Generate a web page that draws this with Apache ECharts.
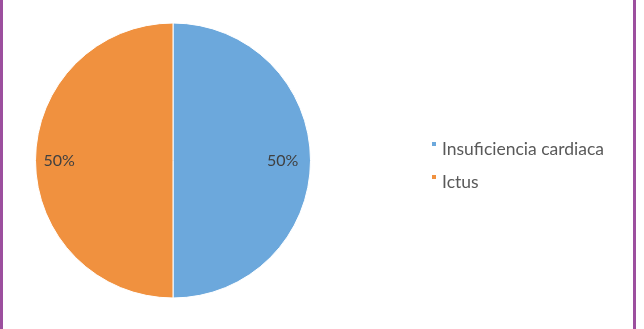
<!DOCTYPE html>
<html>
<head>
<meta charset="utf-8">
<script src="https://cdn.jsdelivr.net/npm/echarts@6/dist/echarts.min.js"></script>
<style>
html,body{margin:0;padding:0;background:#fff;}
#wrap{position:relative;width:644px;height:329px;overflow:hidden;}
#chart{position:absolute;left:0;top:0;width:644px;height:329px;}
.bl{position:absolute;top:0;width:3px;height:329px;background:#9c4f9e;}
</style>
</head>
<body>
<div id="wrap">
<div id="chart"></div>
<div class="bl" style="left:0"></div>
<div class="bl" style="left:633px"></div>
</div>
<script>
const categories = ["Insuficiencia cardiaca", "Ictus"];
const values = [50, 50];
const colors = ["#6CA8DC", "#F0913F"];

const data = categories.map((c, i) => ({ name: c, value: values[i] }));
const chart = echarts.init(document.getElementById('chart'), null, { renderer: 'canvas' });
chart.setOption({
  animation: false,
  color: colors,
  legend: {
    orient: 'vertical',
    left: 430,
    top: 130,
    padding: 0,
    itemWidth: 6,
    itemHeight: 6,
    itemGap: 5,
    icon: 'rect',
    data: categories,
    formatter: '{t|{name}}',
    textStyle: {
      fontFamily: 'Lato', fontSize: 17.5, color: '#595959',
      rich: { t: { fontFamily: 'Lato', fontSize: 17.5, lineHeight: 20, color: '#595959', padding: [10, 0, 0, 0] } }
    },
    selectedMode: false
  },
  series: [
    {
      type: 'pie',
      center: [173, 160.5],
      radius: [0, 137.5],
      startAngle: 90,
      clockwise: true,
      silent: true,
      data: data,
      itemStyle: { borderColor: '#ffffff', borderWidth: 1 },
      label: { show: false },
      labelLine: { show: false }
    },
    {
      type: 'pie',
      center: [171, 160.5],
      radius: [80, 137.5],
      startAngle: 90,
      clockwise: true,
      silent: true,
      data: data,
      itemStyle: { color: 'rgba(0,0,0,0)', borderWidth: 0 },
      label: {
        show: true,
        position: 'inside',
        formatter: '{d}%',
        fontFamily: 'Lato',
        fontSize: 16,
        color: '#404040'
      },
      labelLine: { show: false }
    }
  ]
});
</script>
</body>
</html>
